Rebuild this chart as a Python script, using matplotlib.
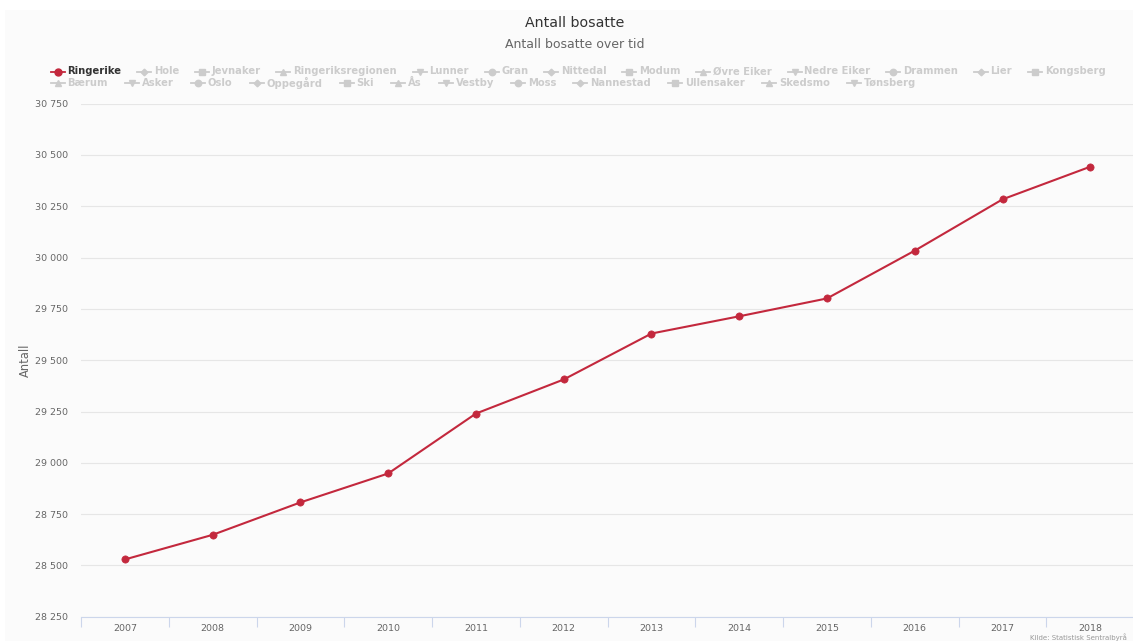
import numpy as np
import matplotlib
matplotlib.use("Agg")
import matplotlib.pyplot as plt
from matplotlib.lines import Line2D
from matplotlib.patches import Rectangle
from matplotlib.ticker import FuncFormatter

# --- data -------------------------------------------------------------------
years = ["2007", "2008", "2009", "2010", "2011", "2012",
         "2013", "2014", "2015", "2016", "2017", "2018"]
ringerike = [28529, 28649, 28807, 28948, 29240, 29406,
             29630, 29714, 29801, 30034, 30284, 30443]

legend_names = ["Ringerike", "Hole", "Jevnaker", "Ringeriksregionen", "Lunner",
                "Gran", "Nittedal", "Modum", "Øvre Eiker", "Nedre Eiker",
                "Drammen", "Lier", "Kongsberg",
                "Bærum", "Asker", "Oslo", "Oppegård", "Ski", "Ås", "Vestby",
                "Moss", "Nannestad", "Ullensaker", "Skedsmo", "Tønsberg"]

y_ticks = list(range(28250, 30751, 250))

# --- styling ------------------------------------------------------------------
plt.rcParams["font.family"] = ["DejaVu Sans"]
W, H, DPI = 1133, 641, 100
RED = "#c3283d"
GREY_TXT = "#666666"
HIDDEN = "#cccccc"
AXIS_BLUE = "#ccd6eb"


def fx(x):
    return x / W


def fy(y):
    return 1 - y / H


fig = plt.figure(figsize=(W / DPI, H / DPI), dpi=DPI, facecolor="white")
fig.patches.append(Rectangle((fx(5), 0), 1 - fx(5), fy(10), transform=fig.transFigure,
                             facecolor="#fbfbfb", edgecolor="none", zorder=-5))

# --- plot area ------------------------------------------------------------------
left, right, top, bottom = 81.0, 1134.2, 103.7, 616.7
ax = fig.add_axes([fx(left), fy(bottom), (right - left) / W, (bottom - top) / H])
ax.set_facecolor("none")
ax.set_zorder(2)

xs = np.arange(len(years))
ax.plot(xs, ringerike, color=RED, lw=1.5, marker="o", ms=5.2, mew=0.5,
        zorder=3, clip_on=False)

ax.set_xlim(-0.5, len(years) - 0.5)
ax.set_ylim(y_ticks[0], y_ticks[-1])
ax.set_yticks(y_ticks)
ax.yaxis.set_major_formatter(FuncFormatter(lambda v, _: f"{int(v):,}".replace(",", " ")))
ax.grid(axis="y", color="#e6e6e6", lw=0.8)
ax.set_axisbelow(True)

for side in ("left", "right", "top"):
    ax.spines[side].set_visible(False)
ax.spines["bottom"].set_color(AXIS_BLUE)
ax.spines["bottom"].set_linewidth(0.8)

ax.tick_params(axis="y", length=0, pad=9.4, labelsize=6.8, labelcolor=GREY_TXT)
ax.set_xticks(xs)
ax.set_xticklabels(years)
ax.set_xticks(np.arange(-0.5, len(years)), minor=True)
ax.tick_params(axis="x", which="major", length=0, pad=5, labelsize=6.8, labelcolor=GREY_TXT)
ax.tick_params(axis="x", which="minor", length=7.2, width=0.8, color=AXIS_BLUE)

fig.text(fx(25), fy(360), "Antall", rotation=90, ha="center", va="center",
         fontsize=8.3, color=GREY_TXT)

# --- titles -------------------------------------------------------------------
cx = 574.5
fig.text(fx(cx), fy(23), "Antall bosatte", ha="center", va="center",
         fontsize=10.2, color="#333333")
fig.text(fx(cx), fy(44), "Antall bosatte over tid", ha="center", va="center",
         fontsize=9.0, color=GREY_TXT)

# --- legend -------------------------------------------------------------------
symbols = ["o", "D", "s", "^", "v"]
sym_size = {"o": 4.6, "D": 3.4, "s": 3.8, "^": 4.4, "v": 4.4}
renderer = fig.canvas.get_renderer()
rows = [legend_names[:13], legend_names[13:]]
row_y = [71.5, 82.5]
row_gap = [15.5, 17.0]
idx = 0
for r, row in enumerate(rows):
    xcur = 50.5
    for name in row:
        active = idx == 0
        col = RED if active else HIDDEN
        mk = symbols[idx % len(symbols)]
        yy = fy(row_y[r])
        fig.add_artist(Line2D([fx(xcur), fx(xcur + 14)], [yy, yy], transform=fig.transFigure,
                              color=col, lw=1.3))
        fig.add_artist(Line2D([fx(xcur + 7)], [yy], transform=fig.transFigure, color=col,
                              marker=mk, ms=(5.0 if active else sym_size[mk]), lw=0))
        t = fig.text(fx(xcur + 17.0), yy, name, fontsize=7.2, fontweight="bold",
                     color="#333333" if active else HIDDEN, ha="left", va="center")
        w = t.get_window_extent(renderer).width
        xcur += 17.0 + w + row_gap[r]
        idx += 1

# --- source credit ------------------------------------------------------------
fig.text(fx(1030), fy(637), "Kilde: Statistisk Sentralbyrå", ha="left", va="center",
         fontsize=5.0, color="#999999")

fig.savefig("out.png", dpi=DPI, facecolor="white")
